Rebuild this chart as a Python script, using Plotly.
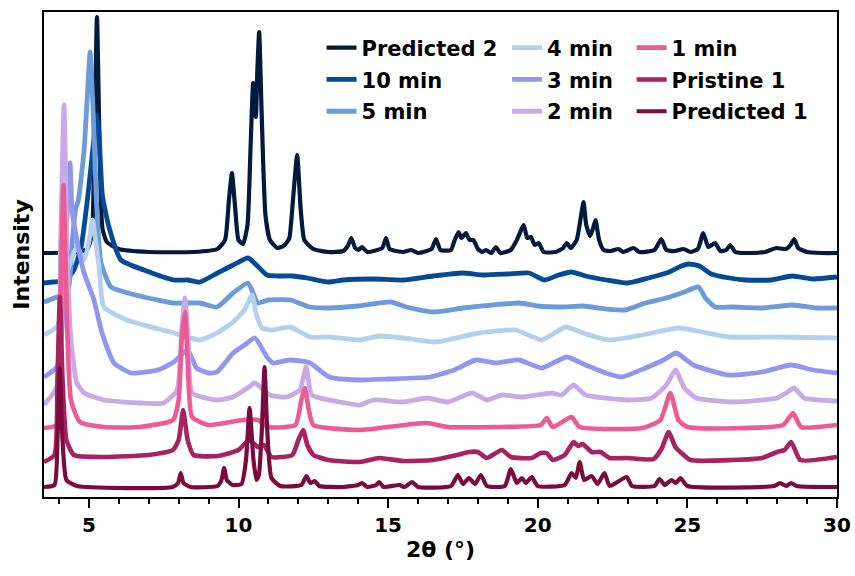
import plotly.graph_objects as go

# ---- data: (2theta, stacked intensity in a.u.) ----
PREDICTED_2 = [(3.5,247),(4.6,248),(4.95,251),(5.1,265),(5.18,350),(5.27,483),(5.36,350),(5.45,272),(5.6,258),(6.0,251),(7.0,248),(8.5,248),(9.3,251),(9.55,260),(9.68,300),(9.78,327),(9.88,295),(10.0,260),(10.15,256),(10.3,275),(10.4,350),(10.49,417),(10.58,383),(10.63,430),(10.69,468),(10.77,390),(10.9,285),(11.05,260),(11.3,252),(11.5,254),(11.6,257),(11.7,262),(11.82,300),(11.96,345),(12.08,290),(12.2,260),(12.5,251),(13.0,248),(13.5,249),(13.65,254),(13.77,262),(13.9,252),(14.0,250),(14.13,253),(14.3,248),(14.8,252),(14.93,262),(15.05,251),(15.5,248),(15.77,250),(16.0,247),(16.45,251),(16.6,261),(16.75,250),(17.1,250),(17.2,258),(17.35,268),(17.45,262),(17.6,267),(17.72,260),(17.85,260),(18.0,251),(18.15,248),(18.27,250),(18.45,247),(18.6,253),(18.75,247),(19.1,250),(19.3,260),(19.53,275),(19.65,262),(19.77,263),(19.9,255),(20.03,257),(20.2,248),(20.6,248),(20.85,252),(20.97,257),(21.1,252),(21.3,260),(21.45,285),(21.53,298),(21.62,275),(21.75,264),(21.85,272),(21.93,280),(22.05,260),(22.2,250),(22.45,249),(22.7,251),(22.85,248),(23.2,252),(23.4,248),(23.9,250),(24.13,261),(24.3,250),(24.6,249),(24.87,251),(25.1,248),(25.35,251),(25.53,267),(25.7,253),(25.93,257),(26.1,249),(26.3,250),(26.43,255),(26.6,248),(27.0,247),(27.6,248),(27.97,252),(28.3,251),(28.45,255),(28.57,261),(28.7,252),(29.0,248),(29.5,247),(30.0,247)]

MIN_10 = [(3.5,217),(3.8,218),(4.2,219),(4.5,230),(4.74,253),(4.95,300),(5.14,353),(5.25,385),(5.33,370),(5.45,305),(5.67,273),(6.07,240),(6.84,230),(7.84,220),(8.3,220),(8.71,218),(9.3,227),(9.82,235),(10.32,242),(10.6,235),(10.95,225),(11.3,224),(11.8,224),(12.3,222),(13.0,218),(13.5,220),(14.5,221),(15.5,220),(16.5,224),(17.47,227),(18.2,225),(19.0,226),(19.7,227),(20.23,220),(20.7,225),(21.13,228),(21.6,224),(22.3,220),(23.0,217),(23.7,222),(24.4,228),(24.8,234),(25.05,236),(25.4,234),(25.8,226),(26.4,222),(26.93,220),(27.8,220),(28.5,224),(29.2,221),(30.0,223)]

MIN_5 = [(3.5,198),(3.93,203),(4.3,210),(4.45,260),(4.55,290),(4.65,300),(4.84,350),(4.95,405),(5.04,448),(5.14,390),(5.25,300),(5.4,238),(5.74,213),(6.84,203),(7.84,197),(8.71,197),(9.28,193),(9.82,207),(10.32,217),(10.65,197),(11.0,200),(11.72,200),(12.39,193),(13.03,192),(14.0,194),(15.1,198),(15.6,193),(16.5,188),(17.5,192),(18.5,195),(19.4,197),(20.0,194),(20.8,193),(21.5,194),(22.3,191),(22.93,190),(23.6,197),(24.3,202),(24.9,208),(25.37,213),(25.6,202),(25.93,193),(26.5,193),(27.5,192),(28.5,195),(29.3,192),(30.0,192)]

MIN_4 = [(3.5,165),(3.93,173),(4.1,190),(4.27,227),(4.6,253),(4.84,240),(5.0,258),(5.12,280),(5.22,260),(5.34,233),(5.5,193),(6.27,180),(7.84,167),(8.71,160),(9.28,167),(9.82,178),(10.2,190),(10.45,205),(10.6,185),(10.79,172),(11.15,170),(11.72,173),(12.39,163),(13.03,163),(14.06,160),(14.7,164),(15.5,162),(16.6,158),(18.03,167),(19.27,170),(20.13,160),(20.93,173),(21.6,166),(22.37,160),(23.5,165),(24.7,172),(25.5,168),(26.37,163),(28.0,163),(30.0,162)]

MIN_3 = [(3.5,123),(3.93,133),(4.1,170),(4.25,270),(4.37,337),(4.44,290),(4.6,260),(4.84,227),(5.17,200),(5.44,167),(5.84,137),(6.41,127),(7.3,130),(7.84,138),(8.3,150),(8.6,132),(9.0,127),(9.28,128),(9.82,147),(10.2,155),(10.55,162),(10.95,143),(11.15,137),(11.72,140),(12.39,137),(13.03,123),(14.0,120),(15.0,121),(16.4,123),(17.2,130),(17.93,140),(18.6,137),(19.37,140),(20.13,132),(20.97,143),(21.6,135),(22.27,127),(22.8,123),(23.6,132),(24.2,140),(24.63,147),(25.2,135),(26.37,125),(27.5,128),(28.47,135),(29.2,130),(30.0,127)]

MIN_2 = [(3.5,95),(3.93,113),(4.05,250),(4.17,395),(4.27,250),(4.4,160),(4.6,117),(4.84,107),(5.5,100),(6.71,97),(7.5,97),(7.95,110),(8.1,170),(8.21,202),(8.32,160),(8.45,107),(9.28,100),(9.82,103),(10.3,112),(10.55,117),(11.05,105),(11.6,103),(12.05,110),(12.26,133),(12.45,105),(13.39,98),(14.06,95),(14.5,100),(15.5,98),(16.3,102),(17.0,98),(17.8,107),(18.3,100),(18.8,105),(19.5,103),(20.47,107),(20.8,105),(21.2,115),(21.6,105),(23.0,100),(23.8,102),(24.3,115),(24.6,130),(24.9,112),(25.3,102),(26.5,98),(28.0,102),(28.3,107),(28.57,112),(28.9,102),(30.0,99)]

MIN_1 = [(3.5,72),(3.93,75),(4.05,200),(4.15,315),(4.25,200),(4.4,100),(4.7,78),(5.5,73),(6.7,73),(7.81,80),(8.0,100),(8.1,160),(8.21,188),(8.3,140),(8.45,83),(9.0,75),(10.15,80),(10.65,80),(11.0,73),(11.9,75),(12.1,100),(12.22,112),(12.35,90),(12.5,75),(14.0,70),(16.27,77),(17.0,73),(18.5,73),(20.1,75),(20.3,82),(20.5,73),(21.13,83),(21.4,73),(23.5,72),(24.1,80),(24.43,107),(24.7,80),(25.0,73),(28.2,75),(28.53,87),(28.8,73),(30.0,75)]

PRISTINE_1 = [(3.5,38),(3.85,45),(3.95,120),(4.03,203),(4.12,120),(4.25,60),(4.5,45),(5.5,43),(7.0,45),(7.81,50),(8.0,60),(8.15,90),(8.3,60),(8.5,45),(9.3,44),(10.0,50),(10.35,60),(10.65,53),(10.85,55),(11.1,43),(11.8,45),(12.0,60),(12.16,70),(12.3,55),(12.5,45),(13.0,40),(14.06,38),(14.7,42),(15.5,39),(16.5,40),(17.3,45),(17.7,48),(18.0,48),(18.3,42),(18.8,50),(19.1,43),(19.8,42),(20.1,47),(20.3,47),(20.5,40),(20.9,45),(21.2,58),(21.35,54),(21.5,56),(21.8,48),(22.1,48),(22.4,42),(23.0,42),(23.87,41),(24.15,52),(24.37,68),(24.6,53),(24.8,47),(25.1,40),(26.5,40),(27.5,42),(28.0,48),(28.25,50),(28.47,58),(28.77,40),(30.0,43)]

PREDICTED_1 = [(3.5,13),(3.85,15),(3.95,60),(4.03,132),(4.12,60),(4.25,20),(4.6,14),(7.8,13),(7.98,17),(8.07,27),(8.16,17),(8.4,13),(9.3,14),(9.43,20),(9.52,32),(9.61,20),(9.8,15),(10.1,16),(10.25,40),(10.37,92),(10.5,40),(10.6,20),(10.68,25),(10.78,70),(10.87,133),(10.96,70),(11.1,22),(11.4,14),(12.1,15),(12.27,24),(12.4,17),(12.55,19),(12.7,14),(13.5,13),(14.0,15),(14.13,17),(14.3,13),(14.6,15),(14.7,18),(14.85,13),(15.37,15),(15.55,13),(15.8,18),(16.0,13),(17.1,14),(17.33,25),(17.5,16),(17.7,22),(17.9,16),(18.1,25),(18.3,14),(18.9,14),(19.1,31),(19.3,17),(19.47,22),(19.6,17),(19.8,23),(20.0,14),(20.9,15),(21.13,27),(21.27,22),(21.4,38),(21.55,20),(21.8,24),(22.0,16),(22.23,27),(22.4,14),(22.97,23),(23.15,14),(23.9,14),(24.07,21),(24.25,15),(24.47,20),(24.62,17),(24.77,22),(25.0,14),(27.9,14),(28.1,17),(28.3,14),(28.47,17),(28.65,14),(30.0,13)]

SERIES_NAMES = ["Predicted 2", "10 min", "5 min", "4 min", "3 min", "2 min", "1 min", "Pristine 1", "Predicted 1"]
SERIES_DATA = [PREDICTED_2, MIN_10, MIN_5, MIN_4, MIN_3, MIN_2, MIN_1, PRISTINE_1, PREDICTED_1]
SERIES_COLORS = ["#021a3b", "#054a96", "#6b9bd8", "#b3d1ef", "#8f98ee", "#c8aae6", "#ec5b94", "#a8225f", "#7b0b3d"]
SERIES_WIDTHS = [4.2, 4.8, 4.8, 4.8, 4.8, 4.8, 4.6, 4.6, 4.2]
LEGEND_OF = ["legend", "legend", "legend", "legend2", "legend2", "legend2", "legend3", "legend3", "legend3"]

X_TICKS = [5, 10, 15, 20, 25, 30]
X_RANGE = [3.5, 30]
Y_RANGE = [3, 488]

FONT = "DejaVu Sans"

fig = go.Figure()
for name, data, color, w, lg in zip(SERIES_NAMES, SERIES_DATA, SERIES_COLORS, SERIES_WIDTHS, LEGEND_OF):
    xs = [p[0] for p in data]
    ys = [p[1] for p in data]
    fig.add_trace(go.Scatter(x=xs, y=ys, mode="lines", name=name,
                             line=dict(color=color, width=w, shape="spline", smoothing=0.5),
                             legend=lg, legendgroup=name))

leg_common = dict(font=dict(family=FONT, size=21, color="black", weight="bold"),
                  bgcolor="rgba(0,0,0,0)", borderwidth=0, yanchor="top", xanchor="left",
                  tracegroupgap=1.5, orientation="v")
fig.update_layout(
    width=855, height=576,
    margin=dict(l=44, r=18, t=12, b=79),
    paper_bgcolor="white", plot_bgcolor="white",
    showlegend=True,
    legend=dict(x=0.350, y=0.968, **leg_common),
    legend2=dict(x=0.584, y=0.968, **leg_common),
    legend3=dict(x=0.741, y=0.968, **leg_common),
    xaxis=dict(range=X_RANGE, tickvals=X_TICKS, ticks="outside", ticklen=9, tickwidth=2,
               tickcolor="black", showline=True, linewidth=2, linecolor="black", mirror=True,
               showgrid=False, zeroline=False,
               tickfont=dict(family=FONT, size=20, color="black", weight="bold"),
               minor=dict(dtick=1, tick0=0, ticks="outside", ticklen=5, tickwidth=2, tickcolor="black", showgrid=False),
               title=dict(text="2θ (°)", font=dict(family=FONT, size=22, color="black", weight="bold"), standoff=6),
               automargin=False),
    yaxis=dict(range=Y_RANGE, showticklabels=False, ticks="", showline=True, linewidth=2,
               linecolor="black", mirror=True, showgrid=False, zeroline=False,
               title=dict(text="Intensity", font=dict(family=FONT, size=22, color="black", weight="bold"), standoff=6),
               automargin=False),
)
fig.write_html("out.html")
